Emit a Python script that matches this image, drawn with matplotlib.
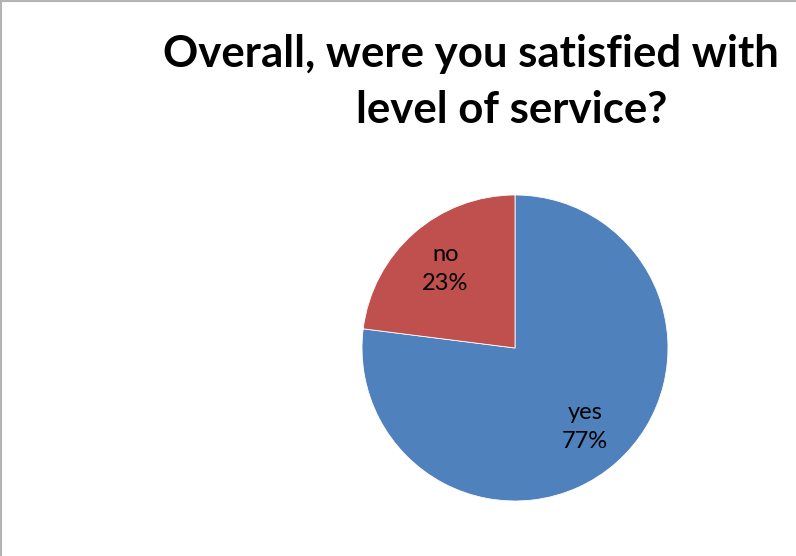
import matplotlib
matplotlib.use("Agg")
import matplotlib.pyplot as plt
from matplotlib.lines import Line2D

# data
categories = ["yes", "no"]
shares = [77, 23]
colors = ["#4F81BD", "#C0504D"]
title_lines = ["Overall, were you satisfied with", "level of service?"]

W, H = 796, 556
fig = plt.figure(figsize=(W / 100, H / 100), dpi=100)
fig.patch.set_facecolor("white")

# pie box: centre (515, 348) px from top-left, radius 153 px
cx, cy, r = 515, 348, 153
ax = fig.add_axes([(cx - r) / W, (H - cy - r) / H, 2 * r / W, 2 * r / H])
labels = [f"{c}\n{p}%" for c, p in zip(categories, shares)]
wedges, texts = ax.pie(shares, colors=colors, startangle=90, counterclock=False,
                       labels=labels, labeldistance=0.69,
                       wedgeprops=dict(linewidth=0.6, edgecolor="white"),
                       textprops=dict(fontsize=17, family="Lato", color="black",
                                      linespacing=1.5))
for t in texts:
    t.set_ha("center")
    t.set_va("center")
ax.set_xlim(-1, 1)
ax.set_ylim(-1, 1)
ax.set_aspect("equal")
ax.axis("off")

# title, two lines placed by baseline
tkw = dict(va="baseline", fontsize=31.5, fontweight="bold", family="Lato")
fig.text(163 / W, 1 - 67 / H, title_lines[0], ha="left", **tkw)
fig.text(512 / W, 1 - 123 / H, title_lines[1], ha="center", **tkw)

# frame edges at top and left
fig.add_artist(Line2D([0, 1], [1 - 0.5 / H, 1 - 0.5 / H], color="#b4b4b4", lw=1.5,
                      transform=fig.transFigure))
fig.add_artist(Line2D([0.5 / W, 0.5 / W], [0, 1], color="#b4b4b4", lw=1.5,
                      transform=fig.transFigure))

fig.savefig("out.png", dpi=100)
